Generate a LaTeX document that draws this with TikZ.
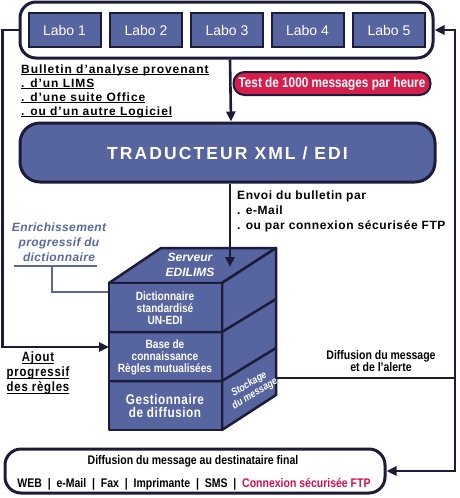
\documentclass[tikz,border=0pt]{standalone}
\usepackage{fontspec}
\setmainfont{Liberation Sans}
\newfontfamily\narrowfont{Liberation Sans}[FakeStretch=0.84]
\usetikzlibrary{calc, positioning}
\usetikzlibrary{arrows.meta}

\definecolor{boxblue}{RGB}{86,100,160}
\definecolor{navy}{RGB}{28,28,58}
\definecolor{enrichblue}{RGB}{90,104,160}
\definecolor{badgered}{RGB}{212,30,76}
\definecolor{ftpred}{RGB}{208,16,80}

\newcommand\ulthick[1]{\setbox0\hbox{#1}\rlap{\rule[-2.4pt]{\wd0}{1.3pt}}\box0}

\tikzset{
  conn/.style={navy, line width=2.6pt},
  arr/.style={conn, -{Triangle[length=10pt,width=9pt]}},
  outer/.style={draw=navy, line width=3pt, rounded corners=16pt, fill=white},
  labo/.style={draw=navy, line width=2pt, fill=boxblue, text=white,
    minimum width=72pt, minimum height=34pt, font=\fontsize{14}{16}\selectfont},
  badge/.style={draw=navy, line width=2pt, fill=badgered, text=white,
    rounded corners=11pt, minimum width=197pt, minimum height=23pt, inner sep=0pt,
    font=\narrowfont\bfseries\fontsize{14}{14}\selectfont},
  cubeface/.style={draw=navy, line width=2.5pt, fill=boxblue, line join=round},
  cubeline/.style={navy, line width=2.5pt},
  cubetext/.style={text=white, align=center, inner sep=0pt,
    font=\narrowfont\bfseries\fontsize{12}{12}\selectfont},
  label/.style={align=center, inner sep=0pt,
    font=\narrowfont\bfseries\fontsize{12.5}{11.5}\selectfont},
  uline/.style={align=left, inner sep=0pt,
    font=\bfseries\addfontfeature{LetterSpace=8}\fontsize{12}{14}\selectfont},
  enrich/.style={text=enrichblue, align=center, inner sep=0pt,
    font=\bfseries\itshape\addfontfeature{LetterSpace=3}\fontsize{12}{15}\selectfont},
  enrline/.style={enrichblue, line width=2.6pt}
}

\begin{document}
\begin{tikzpicture}[x=1pt, y=-1pt]
\useasboundingbox (0,0) rectangle (460,498);

\node[outer, minimum width=413pt, minimum height=56pt] (labs) at (226.5,30) {};
\foreach \i/\x in {1/64.5, 2/146, 3/227, 4/307.5, 5/389}
  \node[labo] (labo\i) at (\x,30) {Labo \i};

\node[uline, anchor=west] (bulletin) at (21,91)
  {\ulthick{Bulletin d’analyse provenant}\\\ulthick{. d’un LIMS}\\
   \ulthick{. d’une suite Office}\\\ulthick{. ou d’un autre Logiciel}};
\node[badge] (test) at (332,83.5) {Test de 1000 messages par heure};

\node[outer, fill=boxblue, minimum width=415pt, minimum height=59pt,
  rounded corners=20pt] (trad) at (227.5,152.5) {};
\node[text=white, font=\bfseries\addfontfeature{LetterSpace=12}\fontsize{17.5}{18}\selectfont]
  (tradtext) at (227.5,153) {TRADUCTEUR XML / EDI};

\node[uline, anchor=north west, font=\bfseries\addfontfeature{LetterSpace=5}\fontsize{12}{15}\selectfont]
  (envoi) at (237,191) {Envoi du bulletin par\\. e-Mail\\. ou par connexion sécurisée FTP};

\node[enrich] (enr) at (59,242) {Enrichissement\\progressif du\\dictionnaire};
\coordinate (ul) at (52,266);
\coordinate (cubedict) at (109,292);
\draw[enrline] (14,266) -- (97,266);
\draw[enrline] (ul) |- (cubedict);

\coordinate (c1) at (109,283);
\coordinate (c2) at (222,283);
\coordinate (c3) at (276,248);
\coordinate (c4) at (161,248);
\coordinate (c5) at (109,430);
\coordinate (c6) at (222,430);
\coordinate (c7) at (276,395);
\filldraw[cubeface] (c1) -- (c4) -- (c3) -- (c2) -- cycle;
\filldraw[cubeface] (c2) -- (c3) -- (c7) -- (c6) -- cycle;
\filldraw[cubeface] (c1) rectangle (c6);
\draw[cubeline] (109,332) -- (222,332) -- ++(54,-33);
\draw[cubeline] (109,381) -- (222,381) -- ++(54,-33);

\node[cubetext, font=\bfseries\itshape\fontsize{12}{15}\selectfont] (serveur) at (190,265) {Serveur\\EDILIMS};
\node[cubetext] (dico) at (165,308) {Dictionnaire\\standardisé\\UN-EDI};
\node[cubetext] (base) at (165,357) {Base de\\connaissance\\Règles mutualisées};
\node[cubetext, font=\narrowfont\bfseries\addfontfeature{LetterSpace=4}\fontsize{14}{13.5}\selectfont]
  (gest) at (165,406) {Gestionnaire\\de diffusion};
\node[cubetext, rotate=31, font=\narrowfont\bfseries\itshape\fontsize{10.5}{11}\selectfont]
  (stock) at (252,389) {Stockage\\du message};

\coordinate (cubein) at (230,267);
\coordinate (cubeleft) at (109,347);
\coordinate (cubeout) at (276,378);
\coordinate (rj) at (455,378);

\draw[arr] ([xshift=3.5pt]labs.south) -- ([xshift=3.5pt]trad.north);
\draw[arr] ([xshift=2.5pt]trad.south) -- (cubein);
\draw[arr] (labs.west) -- ++(-16,0) |- (cubeleft);

\node[uline, align=center, font=\narrowfont\bfseries\addfontfeature{LetterSpace=6}\fontsize{13.5}{15}\selectfont]
  (ajout) at (38,373) {\ulthick{Ajout}\\\ulthick{progressif}\\\ulthick{des règles}};

\node[label] (alerte) at (381,361) {Diffusion du message\\et de l’alerte};

\node[outer, minimum width=380pt, minimum height=44pt] (final) at (195,471) {};
\node[label] (finaltitle) at (193,461) {Diffusion du message au destinataire final};
\node[label] (canaux) at (194,484)
  {WEB \ | \ e-Mail \ | \ Fax \ | \ Imprimante \ | \ SMS \ | \ \textcolor{ftpred}{Connexion sécurisée FTP}};

\draw[conn] (cubeout) -- (rj);
\draw[arr] (rj) |- (labs.east);
\draw[arr] (rj) |- (final.east);
\end{tikzpicture}
\end{document}
